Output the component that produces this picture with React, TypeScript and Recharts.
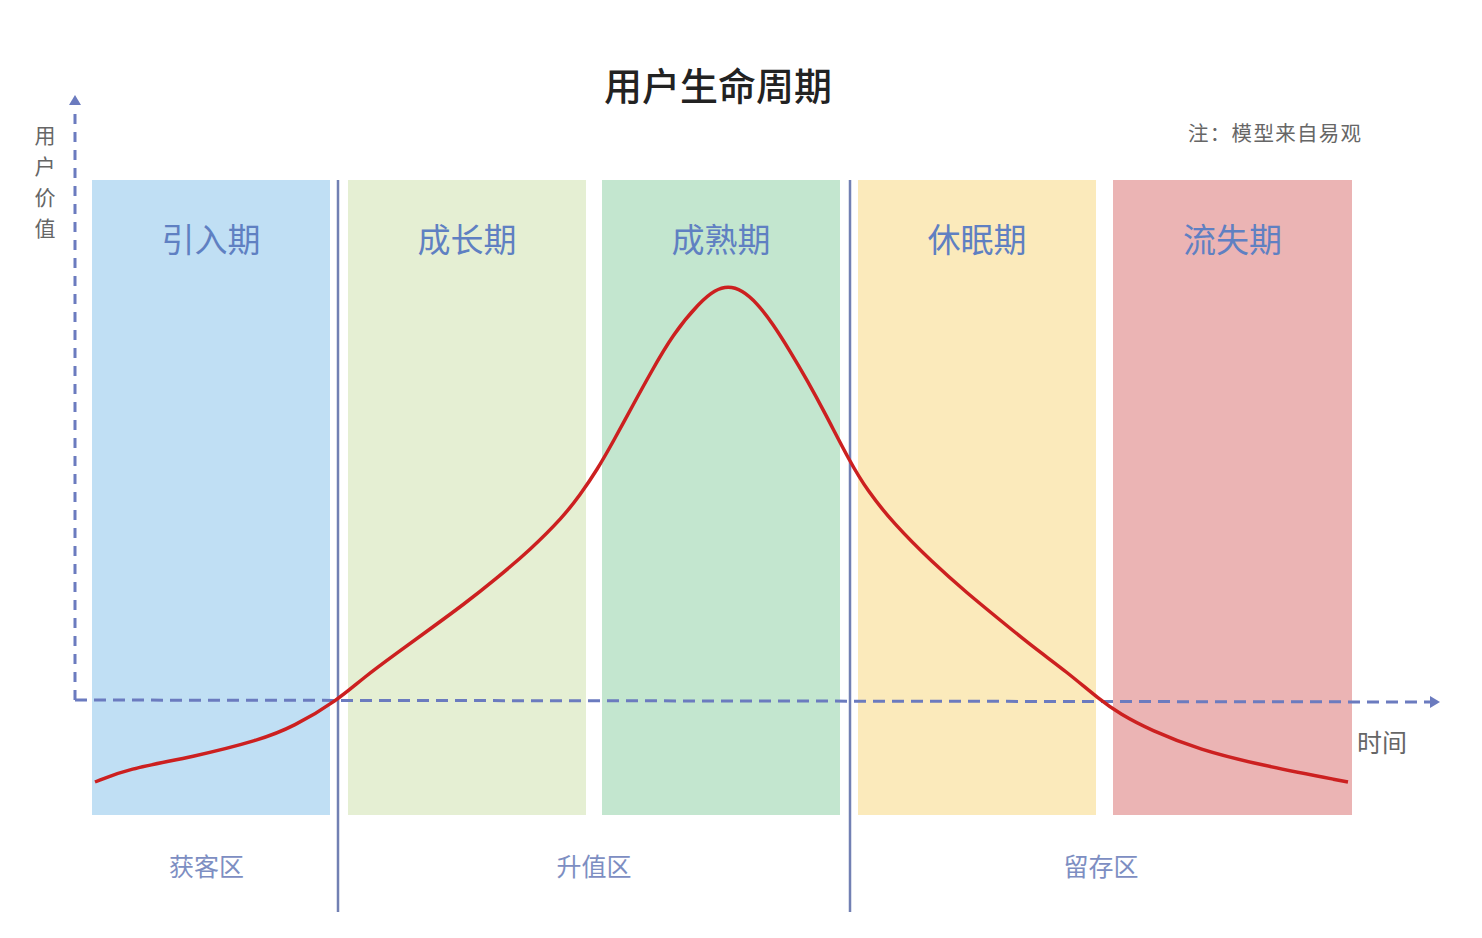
import React from 'react';
import {
  ComposedChart,
  Line,
  XAxis,
  YAxis,
  ReferenceArea,
  ReferenceLine,
  ReferenceDot,
} from 'recharts';

// ---- data ----
const stageNames = ['引入期', '成长期', '成熟期', '休眠期', '流失期'];
const stageStart = [1.7, 27.3, 52.7, 78.3, 103.8];
const stageEnd = [25.5, 51.1, 76.5, 102.1, 127.7];
const stageColors = ['#c0dff4', '#e5efd3', '#c3e6cf', '#fbeabb', '#ebb4b4'];

const zoneNames = ['获客区', '升值区', '留存区'];
const zoneStart = [0, 26.3, 77.5];
const zoneEnd = [26.3, 77.5, 127.7];
const dividers = [26.3, 77.5];

const timeValues = [
  2.0, 5.2, 11.8, 18.5, 21.8, 26.3, 28.8, 32.2, 35.5, 38.8, 42.2, 45.5, 48.8, 50.5,
  52.2, 53.8, 55.8, 57.5, 59.8, 62.5, 64.0, 65.3, 66.7, 68.2, 69.8, 71.5, 73.2, 75.0,
  77.5, 79.2, 81.8, 85.8, 89.2, 92.5, 95.8, 99.2, 102.5, 104.5, 107.5, 112.5, 118.5,
  127.3,
];
const userValues = [
  -8.2, -6.9, -5.7, -4.0, -2.7, 0, 2.2, 4.7, 7.1, 9.5, 12.2, 15.0, 18.3, 20.5,
  23.0, 25.8, 29.5, 32.6, 36.6, 39.8, 41.0, 41.4, 41.0, 39.7, 37.6, 34.9, 32.0, 28.7,
  23.8, 21.0, 17.7, 13.7, 10.7, 8.0, 5.3, 2.8, 0, -1.4, -3.0, -5.0, -6.5,
  -8.2,
];

const X_MAX = 136.5;
const Y_MIN = -21.2;
const Y_MAX = 60.5;
const BAND_TOP = 52.0;
const BAND_BOTTOM = -11.5;

const data = timeValues.map((t, i) => ({ t, v: userValues[i] }));

const AXIS_COLOR = '#6b7bbf';
const FONT = '"Noto Sans CJK SC", "Noto Sans", sans-serif';

const UpArrow = (props: any) => {
  const { cx, cy } = props;
  return <path d={`M${cx - 6},${cy + 10} L${cx},${cy} L${cx + 6},${cy + 10} Z`} fill={AXIS_COLOR} />;
};
const RightArrow = (props: any) => {
  const { cx, cy } = props;
  return <path d={`M${cx - 10},${cy - 6} L${cx},${cy} L${cx - 10},${cy + 6} Z`} fill={AXIS_COLOR} />;
};

export default function App() {
  return (
    <div style={{ position: 'absolute', left: 0, top: 0, width: 1482, height: 938, background: '#fff', fontFamily: FONT }}>
      <ComposedChart
        width={1482}
        height={938}
        data={data}
        margin={{ top: 95, right: 42, bottom: 26, left: 75 }}
      >
        <XAxis dataKey="t" type="number" domain={[0, X_MAX]} hide allowDataOverflow />
        <YAxis type="number" domain={[Y_MIN, Y_MAX]} hide allowDataOverflow />
        {stageNames.map((name, i) => (
          <ReferenceArea
            key={name}
            x1={stageStart[i]}
            x2={stageEnd[i]}
            y1={BAND_BOTTOM}
            y2={BAND_TOP}
            fill={stageColors[i]}
            fillOpacity={1}
            stroke="none"
            label={{
              value: name,
              position: 'insideTop',
              offset: 49,
              fill: '#5f80c2',
              fontSize: 33,
              fontFamily: FONT,
            }}
          />
        ))}
        {zoneNames.map((name, i) => (
          <ReferenceArea
            key={name}
            x1={zoneStart[i]}
            x2={zoneEnd[i]}
            y1={-21.2}
            y2={-12.2}
            fill="none"
            stroke="none"
            label={{
              value: name,
              position: 'center',
              fill: '#7d8ec2',
              fontSize: 25,
              fontFamily: FONT,
            }}
          />
        ))}
        {dividers.map((x) => (
          <ReferenceLine
            key={x}
            segment={[
              { x, y: BAND_TOP },
              { x, y: Y_MIN },
            ]}
            stroke="#7280b3"
            strokeWidth={2.5}
          />
        ))}
        <ReferenceLine
          segment={[
            { x: 0, y: 0 },
            { x: 0, y: 59.0 },
          ]}
          stroke={AXIS_COLOR}
          strokeWidth={3}
          strokeDasharray="10 8"
        />
        <ReferenceLine
          segment={[
            { x: 0, y: 0 },
            { x: 135.5, y: -0.2 },
          ]}
          stroke={AXIS_COLOR}
          strokeWidth={3}
          strokeDasharray="12 7"
        />
        <ReferenceDot x={0} y={Y_MAX} r={0} shape={UpArrow} />
        <ReferenceDot x={X_MAX} y={-0.2} r={0} shape={RightArrow} />
        <Line
          type="basis"
          dataKey="v"
          stroke="#cc2020"
          strokeWidth={3.5}
          dot={false}
          isAnimationActive={false}
        />
      </ComposedChart>
      <div style={{ position: 'absolute', left: 0, width: 1436, top: 56, textAlign: 'center', fontSize: 38, fontWeight: 500, color: '#222' }}>
        用户生命周期
      </div>
      <div style={{ position: 'absolute', left: 1188, top: 117, fontSize: 20.5, letterSpacing: 1.3, color: '#666' }}>
        注：模型来自易观
      </div>
      <div style={{ position: 'absolute', left: 32, top: 119, width: 26, fontSize: 21, lineHeight: '31px', color: '#666', textAlign: 'center' }}>
        用<br />户<br />价<br />值
      </div>
      <div style={{ position: 'absolute', left: 1357, top: 723, fontSize: 25, color: '#666' }}>
        时间
      </div>
    </div>
  );
}
